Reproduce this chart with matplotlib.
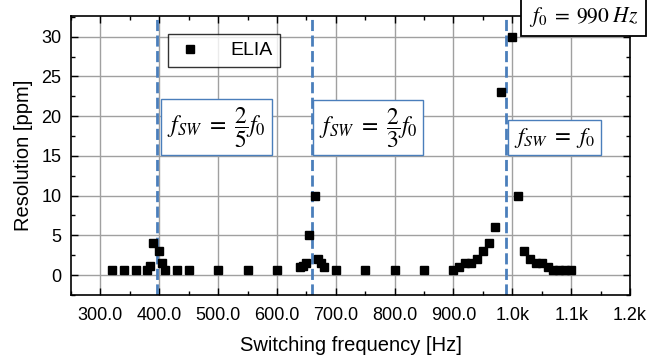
import matplotlib
matplotlib.use("Agg")
import matplotlib.pyplot as plt
from matplotlib.ticker import MultipleLocator, FixedLocator, FixedFormatter

plt.rcParams['font.family'] = ['Liberation Sans', 'DejaVu Sans']
plt.rcParams['mathtext.fontset'] = 'stix'

# ---- data ----
freq = [320, 340, 360, 380, 385, 390, 400, 405, 410, 430, 450, 500, 550, 600,
        640, 645, 650, 655, 665, 670, 675, 680, 700, 750, 800, 850,
        900, 910, 920, 930, 940, 950, 960, 970, 980, 1000, 1010, 1020, 1030,
        1040, 1050, 1060, 1070, 1080, 1090, 1100]
resolution = [0.7, 0.7, 0.7, 0.7, 1.2, 4.0, 3.0, 1.5, 0.7, 0.7, 0.7, 0.7, 0.7, 0.7,
              1.0, 1.2, 1.5, 5.0, 10.0, 2.0, 1.5, 1.0, 0.7, 0.7, 0.7, 0.7,
              0.7, 1.0, 1.5, 1.5, 2.0, 3.0, 4.0, 6.0, 23.0, 30.0, 10.0, 3.0, 2.0,
              1.5, 1.5, 1.0, 0.7, 0.7, 0.7, 0.7]
series_name = "ELIA"
f0 = 990
ratio_lines = [2 / 5 * f0, 2 / 3 * f0, f0]
x_ticks = [300, 400, 500, 600, 700, 800, 900, 1000, 1100, 1200]
x_tick_labels = ["300.0", "400.0", "500.0", "600.0", "700.0", "800.0", "900.0",
                 "1.0k", "1.1k", "1.2k"]
y_ticks = [0, 5, 10, 15, 20, 25, 30]

fig = plt.figure(figsize=(6.47, 3.60), dpi=100)
ax = fig.add_axes([0.1097, 0.1806, 0.8640, 0.7750])

ax.set_xlim(250, 1200)
ax.set_ylim(-2.5, 32.6)

ax.grid(True, which='major', color='#a0a0a0', linewidth=1.0, zorder=0)
ax.set_axisbelow(True)

blue = '#4a7ebb'
for xv in ratio_lines:
    ax.axvline(xv, color=blue, linewidth=2.0, linestyle=(0, (4, 1.6)), zorder=2)

ax.plot(freq, resolution, linestyle='none', marker='s', markersize=5.2,
        color='black', label=series_name, zorder=3)

ax.xaxis.set_major_locator(FixedLocator(x_ticks))
ax.xaxis.set_major_formatter(FixedFormatter(x_tick_labels))
ax.xaxis.set_minor_locator(MultipleLocator(50))
ax.yaxis.set_major_locator(FixedLocator(y_ticks))
ax.yaxis.set_minor_locator(MultipleLocator(2.5))
ax.tick_params(which='both', direction='in', top=True, right=True, labelsize=13)
ax.tick_params(axis='x', pad=9)
ax.tick_params(axis='y', pad=7)
ax.tick_params(which='major', length=5, width=1.0)
ax.tick_params(which='minor', length=3, width=1.0)
for s in ax.spines.values():
    s.set_linewidth(1.2)

ax.set_xlabel("Switching frequency [Hz]", fontsize=14.5, labelpad=8)
ax.set_ylabel("Resolution [ppm]", fontsize=14.5, labelpad=6)

leg = ax.legend(loc='upper left', bbox_to_anchor=(0.1735, 0.9355), borderaxespad=0,
                fontsize=14, frameon=True, fancybox=False, edgecolor='black',
                handlelength=1.5, handletextpad=1.3, borderpad=0.4, markerscale=1.0)
leg.get_frame().set_linewidth(1.0)

box_blue = dict(boxstyle='square,pad=0.25', fc='white', ec=blue, lw=1.0)
ax.text(413, 15.8, r'$f_{SW}\ =\ \dfrac{2}{5}f_0$', fontsize=17, ha='left', va='bottom',
        bbox=box_blue, zorder=4)
ax.text(671, 15.8, r'$f_{SW}\ =\ \dfrac{2}{3}f_0$', fontsize=17, ha='left', va='bottom',
        bbox=box_blue, zorder=4)
ax.text(1003, 15.8, r'$f_{SW}\ =\ f_0$', fontsize=16.5, ha='left', va='bottom',
        bbox=box_blue, zorder=4)
ax.text(1028, 31.0, r'$f_0\;=\;990\;Hz$', fontsize=15.5, ha='left', va='bottom',
        bbox=dict(boxstyle='square,pad=0.35', fc='white', ec='black', lw=1.3),
        zorder=5, clip_on=False)

fig.savefig("out.png", dpi=100)
